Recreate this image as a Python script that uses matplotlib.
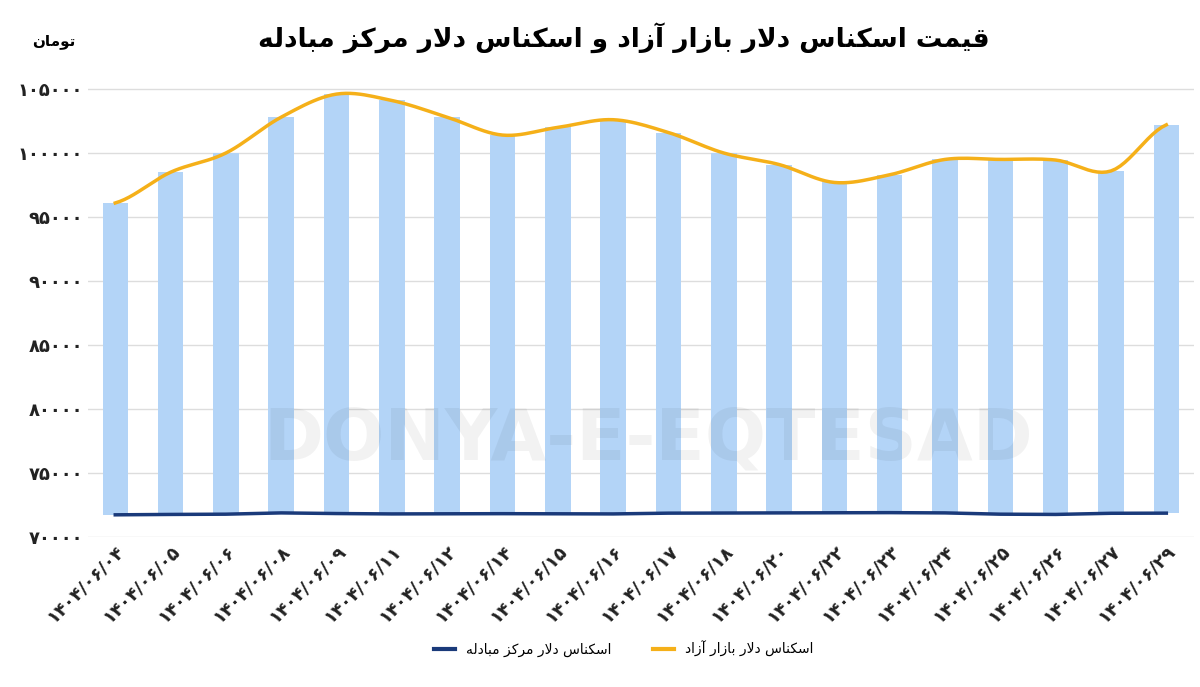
import matplotlib
matplotlib.use("Agg")
import matplotlib.pyplot as plt
from matplotlib.lines import Line2D
import numpy as np

# ---- minimal Arabic/Persian shaper ----
FORMS = {
    'ا': ('\uFE8D', '\uFE8E', None, None), 'آ': ('\uFE81', '\uFE82', None, None),
    'د': ('\uFEA9', '\uFEAA', None, None), 'ر': ('\uFEAD', '\uFEAE', None, None),
    'ز': ('\uFEAF', '\uFEB0', None, None), 'و': ('\uFEED', '\uFEEE', None, None),
    'ب': ('\uFE8F', '\uFE90', '\uFE91', '\uFE92'), 'ت': ('\uFE95', '\uFE96', '\uFE97', '\uFE98'),
    'س': ('\uFEB1', '\uFEB2', '\uFEB3', '\uFEB4'), 'ق': ('\uFED5', '\uFED6', '\uFED7', '\uFED8'),
    'ل': ('\uFEDD', '\uFEDE', '\uFEDF', '\uFEE0'), 'م': ('\uFEE1', '\uFEE2', '\uFEE3', '\uFEE4'),
    'ن': ('\uFEE5', '\uFEE6', '\uFEE7', '\uFEE8'), 'ه': ('\uFEE9', '\uFEEA', '\uFEEB', '\uFEEC'),
    'ی': ('\uFBFC', '\uFBFD', '\uFBFE', '\uFBFF'), 'ک': ('\uFB8E', '\uFB8F', '\uFB90', '\uFB91'),
}

def shape(text):
    chars = list(text)
    out = []
    i = 0
    n = len(chars)
    def joins_next(c):
        return c in FORMS and FORMS[c][2] is not None
    while i < n:
        c = chars[i]
        prev = chars[i - 1] if i > 0 else None
        pj = prev is not None and joins_next(prev) and not (prev == 'ل' and c == 'ا')
        if c == 'ل' and i + 1 < n and chars[i + 1] == 'ا':
            out.append('\uFEFC' if pj else '\uFEFB')
            i += 2
            continue
        if c not in FORMS:
            out.append(c); i += 1; continue
        nxt = chars[i + 1] if i + 1 < n else None
        nj = joins_next(c) and nxt in FORMS
        iso, fin, ini, med = FORMS[c]
        if pj and nj:
            out.append(med)
        elif pj:
            out.append(fin)
        elif nj:
            out.append(ini)
        else:
            out.append(iso)
        i += 1
    return ''.join(out)[::-1]

def fa_digits(s):
    return s.translate(str.maketrans('0123456789', '۰۱۲۳۴۵۶۷۸۹'))

def smooth(xs, ys, k=12):
    # Catmull-Rom curve through the data points (display smoothing only)
    xs = np.asarray(xs, float); ys = np.asarray(ys, float)
    px, py = [], []
    n = len(xs)
    for i in range(n - 1):
        y0 = ys[i - 1] if i > 0 else ys[i]
        y3 = ys[i + 2] if i + 2 < n else ys[i + 1]
        y1, y2 = ys[i], ys[i + 1]
        t = np.linspace(0, 1, k, endpoint=False)
        m1 = (y2 - y0) / 2; m2 = (y3 - y1) / 2
        h00 = 2*t**3 - 3*t**2 + 1; h10 = t**3 - 2*t**2 + t
        h01 = -2*t**3 + 3*t**2; h11 = t**3 - t**2
        px.extend(xs[i] + t * (xs[i + 1] - xs[i]))
        py.extend(h00*y1 + h10*m1 + h01*y2 + h11*m2)
    px.append(xs[-1]); py.append(ys[-1])
    return px, py

# ---- data ----
dates = ["1404/06/04", "1404/06/05", "1404/06/06", "1404/06/08", "1404/06/09", "1404/06/11",
         "1404/06/12", "1404/06/14", "1404/06/15", "1404/06/16", "1404/06/17", "1404/06/18",
         "1404/06/20", "1404/06/22", "1404/06/23", "1404/06/24", "1404/06/25", "1404/06/26",
         "1404/06/27", "1404/06/29"]
free_market = [96100, 98500, 100000, 102800, 104600, 104100, 102800, 101400, 102000, 102600,
               101600, 100000, 99100, 97700, 98300, 99500, 99500, 99450, 98600, 102200]
exchange_center = [71750, 71780, 71800, 71900, 71850, 71820, 71830, 71840, 71830, 71820,
                   71880, 71890, 71900, 71910, 71920, 71900, 71800, 71780, 71870, 71880]
yticks = [70000, 75000, 80000, 85000, 90000, 95000, 100000, 105000]

title = "قیمت اسکناس دلار بازار آزاد و اسکناس دلار مرکز مبادله"
lbl_free = "اسکناس دلار بازار آزاد"
lbl_ex = "اسکناس دلار مرکز مبادله"
unit = "تومان"

fig = plt.figure(figsize=(12, 6.87), dpi=100)
ax = fig.add_axes([0.073, 0.218, 0.922, 0.673])
x = list(range(len(dates)))
heights = [f - e for f, e in zip(free_market, exchange_center)]
ax.bar(x, heights, bottom=exchange_center, width=0.46, color="#b3d4f7", zorder=2)
sx, sy = smooth(x, free_market)
ax.plot(sx, sy, color="#f5b019", lw=2.5, zorder=3)
ax.plot(x, exchange_center, color="#1a3a7a", lw=2.5, zorder=3)

ax.set_xlim(-0.5, len(dates) - 0.5)
ax.set_ylim(70000, 106100)
ax.set_yticks(yticks)
ax.set_yticklabels([fa_digits(str(v)) for v in yticks], fontsize=13, fontweight="bold", color="#222222")
ax.set_xticks(x)
ax.set_xticklabels([fa_digits(d) for d in dates], rotation=45, ha="right", rotation_mode="anchor",
                   fontsize=13, fontweight="bold", color="#222222")
ax.grid(axis="y", color="#dddddd", lw=1, zorder=0)
for s in ax.spines.values():
    s.set_visible(False)
ax.tick_params(length=0)

fig.text(0.52, 0.945, shape(title), ha="center", va="center", fontsize=19, fontweight="bold")
fig.text(0.045, 0.94, shape(unit), ha="center", va="center", fontsize=11, fontweight="bold")
fig.text(0.54, 0.36, "DONYA-E-EQTESAD", ha="center", va="center", fontsize=52,
         fontweight="bold", color="#000000", alpha=0.05)

handles = [Line2D([], [], color="#1a3a7a", lw=3), Line2D([], [], color="#f5b019", lw=3)]
fig.legend(handles, [shape(lbl_ex), shape(lbl_free)], loc="center", bbox_to_anchor=(0.52, 0.055),
           ncol=2, frameon=False, fontsize=10, handlelength=1.5, columnspacing=3)

fig.savefig("out.png", dpi=100)
